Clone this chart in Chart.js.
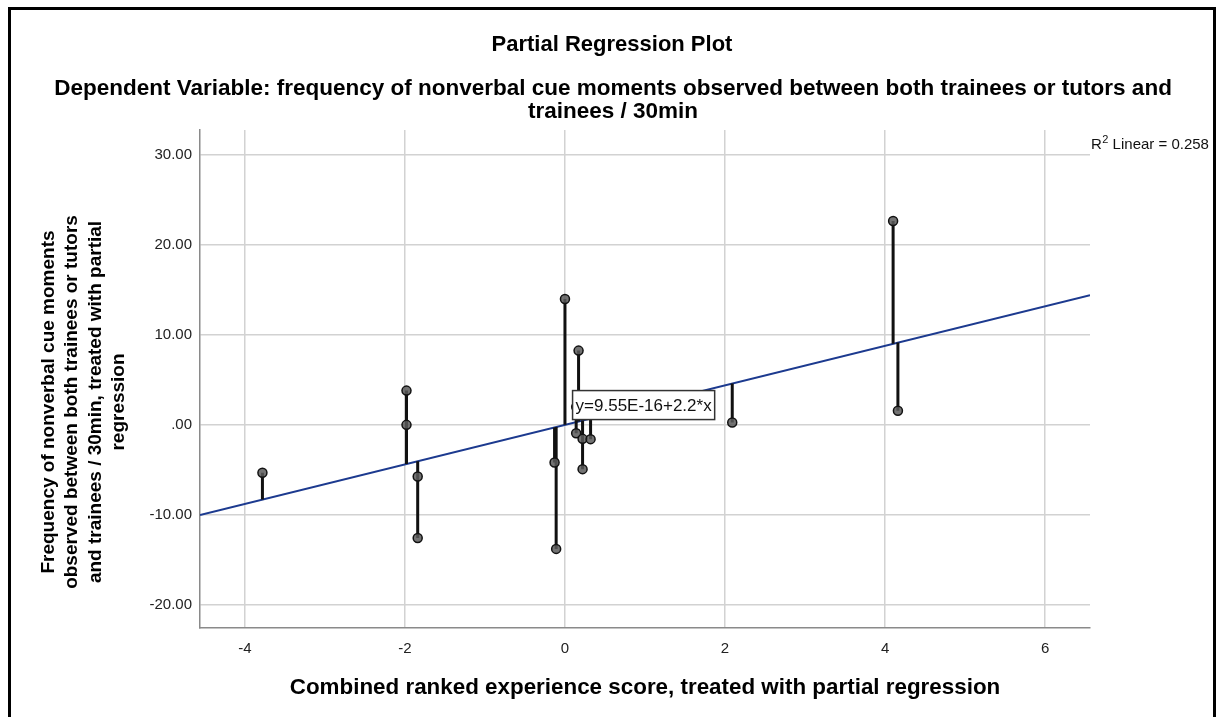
<!DOCTYPE html>
<html>
<head>
<meta charset="utf-8">
<script src="https://cdn.jsdelivr.net/npm/chart.js@4.4.1/dist/chart.umd.min.js"></script>
<style>
  html, body { margin: 0; padding: 0; background: #fff; overflow: hidden; }
  #frame { position: absolute; left: 8px; top: 7px; width: 1202px; height: 800px; border: 3px solid #000; }
  #plot { position: absolute; left: 0; top: 0; }
</style>
</head>
<body>
<div id="frame"></div>
<canvas id="plot" width="1217" height="717"></canvas>
<script>
    // partial regression residuals
    const xVals = [-3.78, -1.98, -1.98, -1.84, -1.84, -0.13, -0.11, 0.00, 0.14, 0.14, 0.17, 0.22, 0.32, 0.22, 2.09, 4.10, 4.16];
    const yVals = [-5.33, 3.81, 0.00, -5.74, -12.59, -4.19, -13.80, 14.00, 2.00, -0.93, 8.26, -1.56, -1.59, -4.93, 0.26, 22.67, 1.56];

    // fit line y = b0 + b1*x
    const intercept = 9.55e-16;
    const slope = 2.2;
    const rSquared = 0.258;

    const xTicks = [-4, -2, 0, 2, 4, 6];
    const xTickLabels = ['-4', '-2', '0', '2', '4', '6'];
    const yTicks = [-20, -10, 0, 10, 20, 30];
    const yTickLabels = ['-20.00', '-10.00', '.00', '10.00', '20.00', '30.00'];

    const xMin = -4.56, xMax = 6.56;
    const yMin = -22.6, yMax = 32.8;

    const FONT = "'Liberation Sans', Arial, sans-serif";

    const points = xVals.map((x, i) => ({x: x, y: yVals[i]}));
    const fit = x => intercept + slope * x;

    // spikes from every point to the fit line, broken by gaps
    const spikes = [];
    points.forEach(p => {
      spikes.push({x: p.x, y: p.y});
      spikes.push({x: p.x, y: fit(p.x)});
      spikes.push({x: p.x, y: null});
    });

    const plotText = {
      id: 'plotText',
      afterDatasetsDraw(chart) {
        const {ctx, scales} = chart;
        const xs = scales.x, ys = scales.y;
        ctx.save();

        // equation box
        const eq = 'y=9.55E-16+2.2*x';
        ctx.font = '17px ' + FONT;
        const bx = xs.getPixelForValue(0.095);
        const by = ys.getPixelForValue(2.2);
        const bw = ctx.measureText(eq).width + 6;
        ctx.fillStyle = '#fff';
        ctx.fillRect(bx, by - 14.5, bw, 29);
        ctx.strokeStyle = '#333';
        ctx.lineWidth = 1.5;
        ctx.strokeRect(bx, by - 14.5, bw, 29);
        ctx.fillStyle = '#111';
        ctx.textBaseline = 'middle';
        ctx.fillText(eq, bx + 3, by + 1);
        ctx.restore();
      },
      afterDraw(chart) {
        const {ctx, chartArea} = chart;
        ctx.save();
        ctx.fillStyle = '#000';
        ctx.textAlign = 'center';
        ctx.textBaseline = 'middle';

        ctx.font = 'bold 22px ' + FONT;
        ctx.fillText('Partial Regression Plot', 612, 45);
        ctx.font = 'bold 22.5px ' + FONT;
        ctx.fillText('Dependent Variable: frequency of nonverbal cue moments observed between both trainees or tutors and', 613, 89);
        ctx.fillText('trainees / 30min', 613, 112);

        // x axis title
        ctx.font = 'bold 22.4px ' + FONT;
        ctx.fillText('Combined ranked experience score, treated with partial regression', 645, 688);

        // y axis title
        const yTitle = ['Frequency of nonverbal cue moments', 'observed between both trainees or tutors',
                        'and trainees / 30min, treated with partial', 'regression'];
        ctx.font = 'bold 19px ' + FONT;
        ctx.translate(84, 402);
        ctx.rotate(-Math.PI / 2);
        yTitle.forEach((t, i) => ctx.fillText(t, 0, (i - 1.5) * 23.5));
        ctx.setTransform(1, 0, 0, 1, 0, 0);

        // R2 label
        ctx.textAlign = 'left';
        ctx.textBaseline = 'alphabetic';
        ctx.fillStyle = '#111';
        let x = chartArea.right + 1;
        ctx.font = '15px ' + FONT;
        ctx.fillText('R', x, 149);
        x += ctx.measureText('R').width + 0.5;
        ctx.font = '11px ' + FONT;
        ctx.fillText('2', x, 143);
        x += ctx.measureText('2').width;
        ctx.font = '15px ' + FONT;
        ctx.fillText(' Linear = ' + rSquared.toFixed(3), x, 149);
        ctx.restore();
      }
    };

    let chart = new Chart(document.getElementById('plot'), {
      data: {
        datasets: [
          {
            type: 'scatter',
            data: points,
            pointRadius: 4.5,
            pointBackgroundColor: 'rgba(90,90,90,0.85)',
            pointBorderColor: '#111',
            pointBorderWidth: 1.5,
            order: 0
          },
          {
            type: 'line',
            data: spikes,
            borderColor: '#111',
            borderWidth: 3,
            pointRadius: 0,
            spanGaps: false,
            order: 1
          },
          {
            type: 'line',
            data: [{x: xMin, y: fit(xMin)}, {x: xMax, y: fit(xMax)}],
            borderColor: '#1c3a8f',
            borderWidth: 2,
            pointRadius: 0,
            order: 2
          }
        ]
      },
      options: {
        responsive: false,
        animation: false,
        devicePixelRatio: 1,
        layout: {
          padding: {top: 130, right: 127, bottom: 0, left: 0}
        },
        plugins: {
          legend: { display: false },
          tooltip: { enabled: false }
        },
        scales: {
          x: {
            type: 'linear',
            min: xMin,
            max: xMax,
            afterBuildTicks: s => { s.ticks = xTicks.map(v => ({value: v})); },
            afterFit: s => { s.height = 89; },
            grid: { color: '#d2d2d2', lineWidth: 1.5, drawTicks: false },
            border: { color: '#8a8a8a', width: 1.5 },
            ticks: {
              padding: 12,
              color: '#222',
              font: { family: FONT, size: 15 },
              callback: (v, i) => xTickLabels[i]
            }
          },
          y: {
            type: 'linear',
            min: yMin,
            max: yMax,
            afterBuildTicks: s => { s.ticks = yTicks.map(v => ({value: v})); },
            afterFit: s => { s.width = 200; },
            grid: { color: '#d2d2d2', lineWidth: 1.5, drawTicks: false },
            border: { color: '#8a8a8a', width: 1.5 },
            ticks: {
              padding: 8,
              color: '#222',
              font: { family: FONT, size: 15 },
              callback: (v, i) => yTickLabels[i]
            }
          }
        }
      },
      plugins: [plotText]
    });
</script>
</body>
</html>
